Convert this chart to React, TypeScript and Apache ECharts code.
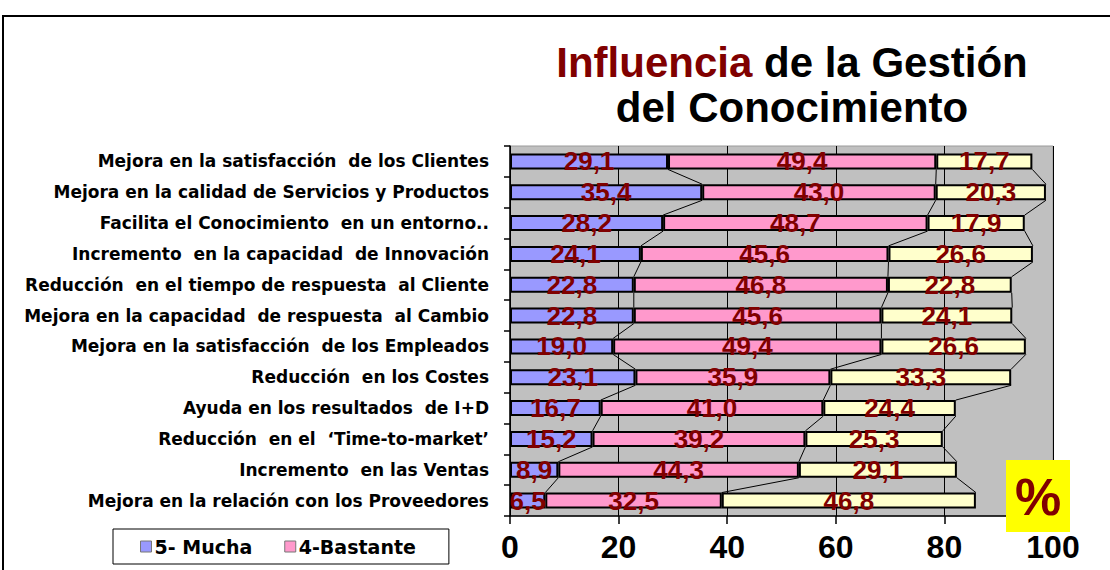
import React, { useEffect, useRef } from "react";
import * as echarts from "echarts";

const categories = [
  "Mejora en la satisfacción  de los Clientes",
  "Mejora en la calidad de Servicios y Productos",
  "Facilita el Conocimiento  en un entorno..",
  "Incremento  en la capacidad  de Innovación",
  "Reducción  en el tiempo de respuesta  al Cliente",
  "Mejora en la capacidad  de respuesta  al Cambio",
  "Mejora en la satisfacción  de los Empleados",
  "Reducción  en los Costes",
  "Ayuda en los resultados  de I+D",
  "Reducción  en el  ‘Time-to-market’",
  "Incremento  en las Ventas",
  "Mejora en la relación con los Proveedores",
];
const mucha = [29.1, 35.4, 28.2, 24.1, 22.8, 22.8, 19.0, 23.1, 16.7, 15.2, 8.9, 6.5];
const bastante = [49.4, 43.0, 48.7, 45.6, 46.8, 45.6, 49.4, 35.9, 41.0, 39.2, 44.3, 32.5];
const algo = [17.7, 20.3, 17.9, 26.6, 22.8, 24.1, 26.6, 33.3, 24.4, 25.3, 29.1, 46.8];
const seriesNames = ["5- Mucha", "4-Bastante", "3-Algo"];
const legendNames = ["5- Mucha", "4-Bastante"];
const xMin = 0;
const xMax = 100;
const xStep = 20;

const FONT = "Liberation Sans, Arial, sans-serif";
const WIDE_FONT = "DejaVu Sans, Liberation Sans, sans-serif";
const BAR_RATIO = 0.52;

export default function App() {
  const ref = useRef<HTMLDivElement>(null);
  useEffect(() => {
    const chart = echarts.init(ref.current!, null, { renderer: "svg" });
    const cum = categories.map((_, i) => [
      mucha[i],
      mucha[i] + bastante[i],
      mucha[i] + bastante[i] + algo[i],
    ]);
    const lineData = categories.slice(0, -1).map((_, i) => [i, ...cum[i], ...cum[i + 1]]);
    const fmt = (p: any) => Number(p.value).toFixed(1).replace(".", ",");
    const label = {
      show: true,
      position: "inside",
      formatter: fmt,
      color: "#800000",
      fontWeight: "bold",
      fontSize: 26,
      fontFamily: FONT,
    };
    const barCommon = {
      type: "bar",
      stack: "total",
      barWidth: BAR_RATIO * 100 + "%",
      label,
      z: 3,
    };
    chart.setOption({
      animation: false,
      backgroundColor: "#ffffff",
      grid: {
        left: 510,
        right: 57,
        top: 146,
        bottom: 54,
        show: true,
        backgroundColor: "#C0C0C0",
        borderColor: "#9a9a9a",
        borderWidth: 1,
      },
      legend: {
        data: legendNames,
        left: 113,
        top: 529,
        orient: "horizontal",
        backgroundColor: "#ffffff",
        borderColor: "#000000",
        borderWidth: 1,
        borderRadius: 0,
        padding: [8, 33, 8, 27],
        itemGap: 32,
        itemWidth: 11,
        itemHeight: 11,
        icon: "rect",
        itemStyle: { borderColor: "#777777", borderWidth: 1 },
        textStyle: { fontFamily: WIDE_FONT, fontWeight: "bold", fontSize: 19, color: "#000", padding: [0, 0, 0, -2] },
      },
      xAxis: {
        type: "value",
        min: xMin,
        max: xMax,
        interval: xStep,
        axisLine: { show: true, lineStyle: { color: "#000", width: 1.5 } },
        axisTick: { show: true, length: 8, lineStyle: { color: "#000", width: 1.5 } },
        splitLine: { show: true, lineStyle: { color: "#000", width: 1 } },
        axisLabel: {
          color: "#000",
          fontFamily: FONT,
          fontWeight: "bold",
          fontSize: 32,
          margin: 15,
        },
      },
      yAxis: {
        type: "category",
        inverse: true,
        data: categories,
        axisLine: { show: true, lineStyle: { color: "#000", width: 1.5 } },
        axisTick: { show: true, length: 6, lineStyle: { color: "#000", width: 1.5 } },
        axisLabel: {
          color: "#000",
          fontFamily: WIDE_FONT,
          fontWeight: "bold",
          fontSize: 17,
          margin: 21,
        },
      },
      series: [
        {
          ...barCommon,
          name: seriesNames[0],
          data: mucha,
          itemStyle: { color: "#9999FF", borderColor: "#000", borderWidth: 2 },
        },
        {
          ...barCommon,
          name: seriesNames[1],
          data: bastante,
          itemStyle: { color: "#FF99CC", borderColor: "#000", borderWidth: 2 },
        },
        {
          ...barCommon,
          name: seriesNames[2],
          data: algo,
          itemStyle: { color: "#FFFFCC", borderColor: "#000", borderWidth: 2 },
        },
        {
          type: "custom",
          name: "seriesLines",
          silent: true,
          z: 2,
          coordinateSystem: "cartesian2d",
          encode: { x: [1, 2, 3, 4, 5, 6], y: 0 },
          data: lineData,
          renderItem: (params: any, api: any) => {
            const i = api.value(0);
            const half = (api.size([0, 1])[1] * BAR_RATIO) / 2;
            const children = [0, 1, 2].map((k) => {
              const p1 = api.coord([api.value(1 + k), i]);
              const p2 = api.coord([api.value(4 + k), i + 1]);
              return {
                type: "line",
                shape: { x1: p1[0], y1: p1[1] + half, x2: p2[0], y2: p2[1] - half },
                style: { stroke: "#000", lineWidth: 1 },
              };
            });
            return { type: "group", children };
          },
        },
      ],
      graphic: [
        {
          type: "rect",
          silent: true,
          shape: { x: 3, y: 16, width: 1200, height: 700 },
          style: { fill: "none", stroke: "#000", lineWidth: 2 },
          z: 0,
        },
        {
          type: "text",
          x: 792,
          y: 62,
          style: {
            text: "{r|Influencia} de la Gestión",
            fill: "#000",
            font: `bold 42px ${FONT}`,
            textAlign: "center",
            textVerticalAlign: "middle",
            rich: {
              r: { fill: "#800000", fontSize: 42, fontWeight: "bold", fontFamily: FONT },
            },
          },
        },
        {
          type: "text",
          x: 792,
          y: 107,
          style: {
            text: "del Conocimiento",
            fill: "#000",
            font: `bold 42px ${FONT}`,
            textAlign: "center",
            textVerticalAlign: "middle",
          },
        },
        {
          type: "rect",
          shape: { x: 1006, y: 460, width: 64, height: 72 },
          style: { fill: "#FFFF00" },
          z: 10,
        },
        {
          type: "text",
          x: 1038,
          y: 497,
          z: 11,
          style: {
            text: "%",
            fill: "#800000",
            font: `bold 52px ${FONT}`,
            textAlign: "center",
            textVerticalAlign: "middle",
          },
        },
      ],
    });
    return () => chart.dispose();
  }, []);
  return (
    <div
      ref={ref}
      style={{ position: "absolute", left: 0, top: 0, width: 1110, height: 570 }}
    />
  );
}
